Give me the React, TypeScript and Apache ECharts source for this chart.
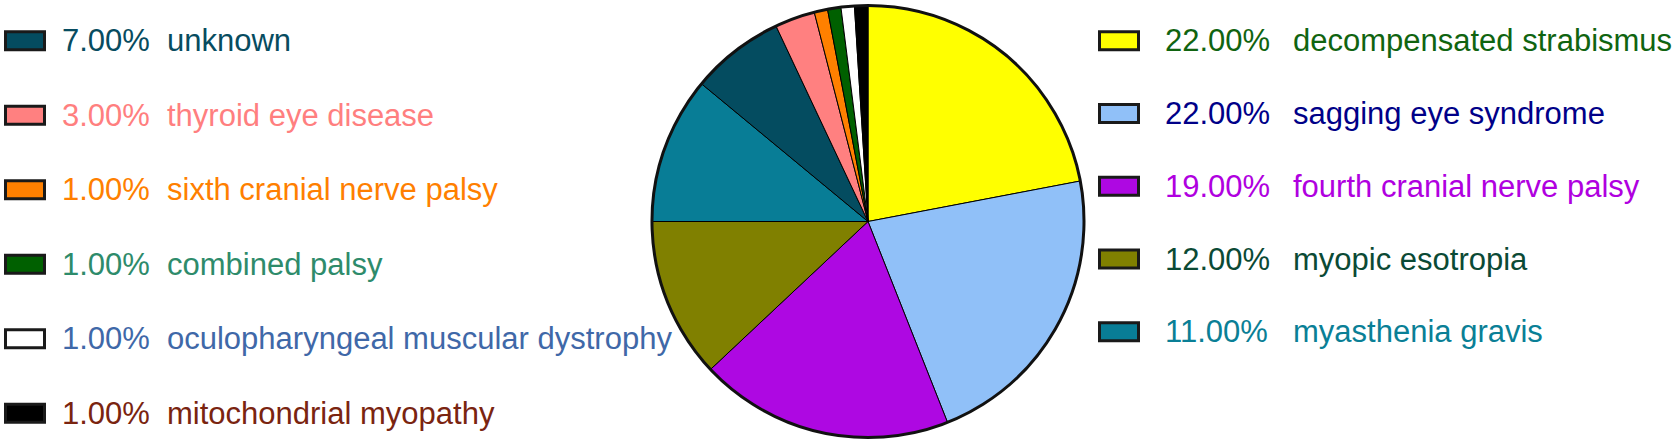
import React, { useEffect, useRef } from 'react';
import * as echarts from 'echarts';

const categories = [
  'decompensated strabismus',
  'sagging eye syndrome',
  'fourth cranial nerve palsy',
  'myopic esotropia',
  'myasthenia gravis',
  'unknown',
  'thyroid eye disease',
  'sixth cranial nerve palsy',
  'combined palsy',
  'oculopharyngeal muscular dystrophy',
  'mitochondrial myopathy',
];
const values = [22, 22, 19, 12, 11, 7, 3, 1, 1, 1, 1];
const sliceColors = [
  '#FFFF00', '#90C0F8', '#AE08E2', '#808000', '#087D96',
  '#044C60', '#FF8080', '#FF8000', '#006000', '#FFFFFF', '#000000',
];
const labelColors = [
  '#106410', '#000088', '#B000E0', '#0B4A35', '#0A7F96',
  '#074C60', '#FF7F7F', '#FF7F00', '#2E8B6B', '#3F68A8', '#7A2410',
];
const rightItems = [0, 1, 2, 3, 4];
const leftItems = [5, 6, 7, 8, 9, 10];

export default function App() {
  const ref = useRef<HTMLDivElement>(null);
  useEffect(() => {
    const chart = echarts.init(ref.current!, null, { renderer: 'svg' });
    const total = values.reduce((a, b) => a + b, 0);
    const font = { fontSize: 31, fontFamily: '"Liberation Sans", Arial, sans-serif' };
    const graphics: any[] = [];
    const addItem = (i: number, boxX: number, pctX: number, nameX: number, y: number) => {
      graphics.push({
        type: 'rect',
        shape: { x: boxX, y: y - 9, width: 39, height: 18 },
        style: { fill: sliceColors[i], stroke: '#1a1a1a', lineWidth: 3 },
        silent: true,
      });
      graphics.push({
        type: 'text', x: pctX, y,
        style: { text: ((values[i] / total) * 100).toFixed(2) + '%', fill: labelColors[i], verticalAlign: 'middle', align: 'left', ...font },
        silent: true,
      });
      graphics.push({
        type: 'text', x: nameX, y,
        style: { text: categories[i], fill: labelColors[i], verticalAlign: 'middle', align: 'left', ...font },
        silent: true,
      });
    };
    leftItems.forEach((i, k) => addItem(i, 5.5, 62, 167, 40.8 + k * 74.5));
    rightItems.forEach((i, k) => addItem(i, 1099.5, 1165, 1293, 40.8 + k * 72.75));

    chart.setOption({
      animation: false,
      backgroundColor: '#ffffff',
      series: [
        {
          type: 'pie',
          center: [868, 221.5],
          radius: 216,
          startAngle: 90,
          clockwise: true,
          silent: true,
          label: { show: false },
          labelLine: { show: false },
          itemStyle: { borderColor: '#000', borderWidth: 1 },
          emphasis: { disabled: true },
          data: categories.map((name, i) => ({ name, value: values[i], itemStyle: { color: sliceColors[i] } })),
        },
        {
          type: 'pie',
          center: [868, 221.5],
          radius: 216,
          silent: true,
          label: { show: false },
          labelLine: { show: false },
          emphasis: { disabled: true },
          itemStyle: { color: 'none', borderColor: '#111', borderWidth: 3 },
          data: [{ name: 'outline', value: total }],
        },
      ],
      graphic: graphics,
    });
    return () => chart.dispose();
  }, []);
  return <div ref={ref} style={{ position: 'absolute', left: 0, top: 0, width: 1675, height: 444 }} />;
}
